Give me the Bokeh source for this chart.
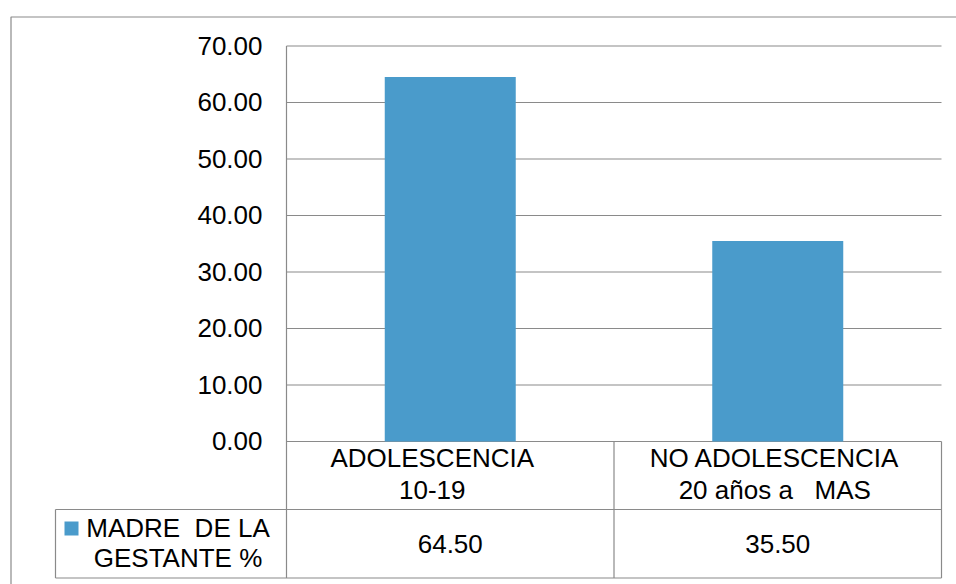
from bokeh.plotting import figure
from bokeh.models import Range1d, ColumnDataSource
from bokeh.core.properties import value
from bokeh.embed import file_html
from bokeh.resources import INLINE

# ---- data -------------------------------------------------------------
categories = ["ADOLESCENCIA\n10-19", "NO ADOLESCENCIA\n20 años a   MAS"]
series_name = "MADRE  DE LA\nGESTANTE %"
madre_pct = [64.50, 35.50]
y_ticks = [0, 10, 20, 30, 40, 50, 60, 70]
y_tick_labels = ["0.00", "10.00", "20.00", "30.00", "40.00", "50.00", "60.00", "70.00"]

# ---- layout (pixels) ----------------------------------------------------
W, H = 956, 584
PX_LEFT, PX_RIGHT = 286, 941      # plot area left / right
PX_ZERO, PX_TOP = 441, 45.5       # value 0 / value 70
Y_MAX = y_ticks[-1]
ROW1_BOTTOM, ROW2_BOTTOM = 509, 577.5
LEGEND_LEFT = 55
OUTER_LEFT, OUTER_TOP = 10.5, 16.5
TEXT_RAISE = 9.5                  # baseline correction for text glyphs

BLUE = "#4a9bcb"
GRID = "#8a8a8a"
FONT = value("Liberation Sans")
FSIZE = "26px"

ncat = len(categories)
x_per_px = ncat / (PX_RIGHT - PX_LEFT)
y_per_px = Y_MAX / (PX_ZERO - PX_TOP)


def sx(px):
    return (px - PX_LEFT) * x_per_px


def sy(py):
    return (PX_ZERO - py) * y_per_px


def keep_spaces(s):
    # SVG collapses runs of spaces; keep the extra ones visible
    return s.replace("  ", " \u00a0")


p = figure(width=W, height=H, output_backend="svg", toolbar_location=None,
           x_range=Range1d(sx(0), sx(W)), y_range=Range1d(sy(H), sy(0)),
           x_axis_location=None, y_axis_location=None, min_border=0,
           outline_line_color=None, background_fill_color="white",
           border_fill_color="white")
p.grid.visible = False

# outer chart border
p.line([sx(OUTER_LEFT), sx(OUTER_LEFT), sx(W + 5)],
       [sy(H + 5), sy(OUTER_TOP), sy(OUTER_TOP)],
       line_color=GRID, line_width=1.2)

# horizontal gridlines across the plot area
p.segment(x0=[0] * len(y_ticks), y0=y_ticks, x1=[ncat] * len(y_ticks), y1=y_ticks,
          line_color=GRID, line_width=1.2)

# bars
xc = [i + 0.5 for i in range(ncat)]
p.vbar(x=xc, top=madre_pct, bottom=0, width=0.4, fill_color=BLUE, line_color=None)

# value axis line and data table grid
x0s = [0, 1, 2, sx(LEGEND_LEFT), sx(LEGEND_LEFT), sx(LEGEND_LEFT)]
y0s = [Y_MAX, 0, 0, sy(ROW1_BOTTOM), sy(ROW1_BOTTOM), sy(ROW2_BOTTOM)]
x1s = [0, 1, 2, sx(LEGEND_LEFT), ncat, ncat]
y1s = [sy(ROW2_BOTTOM), sy(ROW2_BOTTOM), sy(ROW2_BOTTOM), sy(ROW2_BOTTOM),
       sy(ROW1_BOTTOM), sy(ROW2_BOTTOM)]
p.segment(x0=x0s, y0=y0s, x1=x1s, y1=y1s, line_color=GRID, line_width=1.2)

text_style = dict(text_baseline="alphabetic", text_font=FONT,
                  text_font_size=FSIZE, text_color="black")

# y tick labels
p.text(x=[sx(262)] * len(y_ticks), y=y_ticks, text=y_tick_labels,
       text_align="right", y_offset=9 - TEXT_RAISE, **text_style)

# category labels (two lines each)
label_shift = [-18, -3]
line1 = [keep_spaces(c.split("\n")[0]) for c in categories]
line2 = [keep_spaces(c.split("\n")[1]) for c in categories]
cat_src = ColumnDataSource(dict(x=xc, l1=line1, l2=line2, dx=label_shift))
p.text(x="x", y=sy(467 - TEXT_RAISE), text="l1", x_offset="dx", source=cat_src,
       text_align="center", **text_style)
p.text(x="x", y=sy(499 - TEXT_RAISE), text="l2", x_offset="dx", source=cat_src,
       text_align="center", **text_style)

# values row
p.text(x=xc, y=[sy(553 - TEXT_RAISE)] * ncat, text=[f"{v:.2f}" for v in madre_pct],
       text_align="center", **text_style)

# legend key and series name
p.scatter(x=[sx(71)], y=[sy(528)], marker="square", size=14,
          fill_color=BLUE, line_color=None)
name_lines = [keep_spaces(s) for s in series_name.split("\n")]
p.text(x=[sx(177.5)] * 2, y=[sy(537 - TEXT_RAISE), sy(567 - TEXT_RAISE)],
       text=name_lines, text_align="center", **text_style)

open("out.html", "w").write(file_html(p, INLINE))
